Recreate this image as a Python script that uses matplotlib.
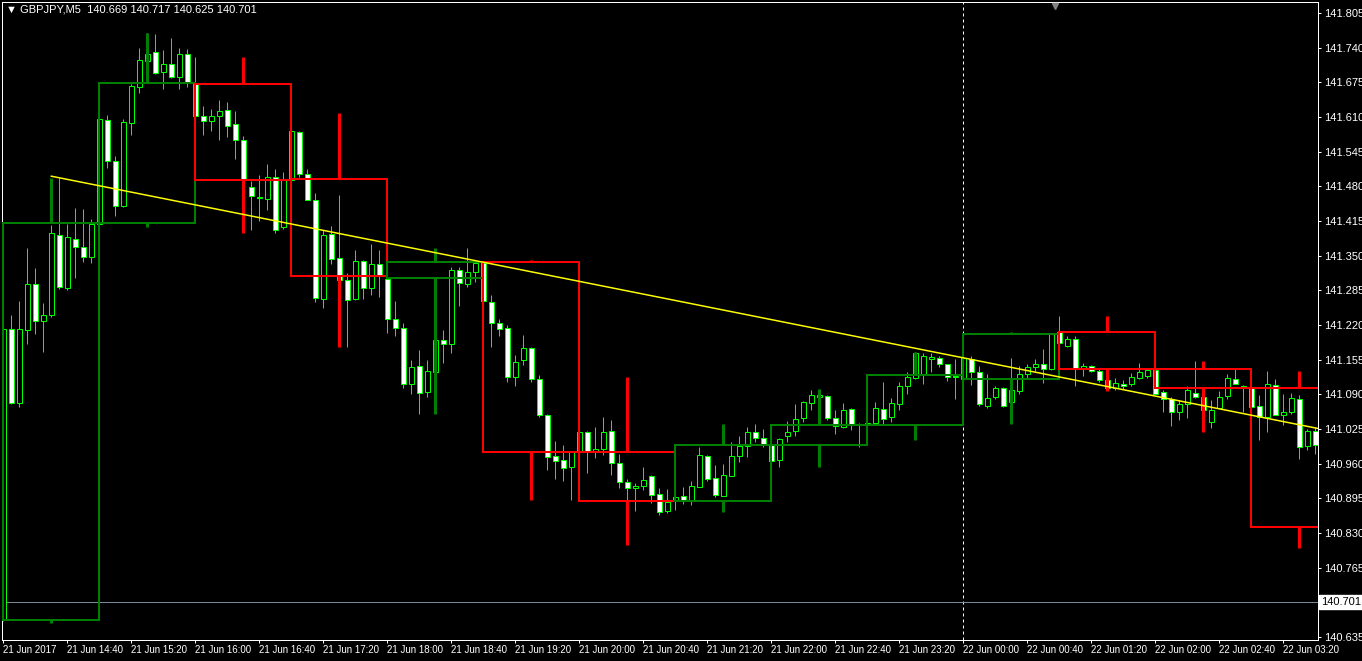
import numpy as np
import matplotlib
matplotlib.use('Agg')
import matplotlib.pyplot as plt
from matplotlib.patches import Rectangle

# ---------- data ----------
symbol = 'GBPJPY,M5'
last_bar = [140.669, 140.717, 140.625, 140.701]   # O H L C shown in the header
bid = 140.701

# M5 bars, first one is 21 Jun 14:00, one bar = 5 min
m5_open = [
    140.667, 141.212, 141.073, 141.210, 141.296, 141.227, 141.238, 141.388, 141.290, 141.382,
    141.366, 141.348, 141.410, 141.605, 141.528, 141.444, 141.598, 141.667, 141.715, 141.732,
    141.695, 141.709, 141.685, 141.729, 141.671, 141.612, 141.602, 141.611, 141.624, 141.596,
    141.566, 141.478, 141.460, 141.457, 141.497, 141.403, 141.491, 141.581, 141.504, 141.455,
    141.268, 141.390, 141.345, 141.305, 141.268, 141.340, 141.290, 141.334, 141.307, 141.231,
    141.214, 141.109, 141.144, 141.094, 141.132, 141.191, 141.185, 141.324, 141.296, 141.320,
    141.336, 141.264, 141.223, 141.214, 141.123, 141.155, 141.176, 141.118, 141.052, 140.975,
    140.967, 140.954, 140.982, 141.019, 140.982, 140.987, 141.021, 140.962, 140.925, 140.915,
    140.918, 140.937, 140.904, 140.871, 140.892, 140.899, 140.890, 140.917, 140.975, 140.933,
    140.900, 140.937, 140.975, 140.994, 141.020, 141.009, 140.995, 140.967, 141.011, 141.022,
    141.045, 141.073, 141.085, 141.086, 141.045, 141.028, 141.062, 141.032, 141.034, 141.037,
    141.062, 141.047, 141.071, 141.106, 141.120, 141.129, 141.157, 141.158, 141.146, 141.122,
    141.119, 141.156, 141.132, 141.069, 141.085, 141.101, 141.076, 141.097, 141.128, 141.142,
    141.146, 141.137, 141.206, 141.180, 141.193, 141.139, 141.144, 141.133, 141.117, 141.102,
    141.110, 141.110, 141.121, 141.124, 141.135, 141.094, 141.081, 141.057, 141.072, 141.093,
    141.085, 141.038, 141.065, 141.087, 141.119, 141.106, 141.102, 141.069, 141.047, 141.107,
    141.052, 141.057, 141.081, 140.993, 141.022,
]
m5_high = [
    141.212, 141.238, 141.265, 141.364, 141.327, 141.262, 141.407, 141.495, 141.409, 141.440,
    141.437, 141.418, 141.610, 141.613, 141.537, 141.606, 141.672, 141.740, 141.767, 141.765,
    141.735, 141.758, 141.739, 141.737, 141.722, 141.630, 141.625, 141.642, 141.638, 141.621,
    141.574, 141.490, 141.501, 141.522, 141.512, 141.507, 141.587, 141.583, 141.513, 141.467,
    141.398, 141.405, 141.463, 141.317, 141.360, 141.341, 141.372, 141.360, 141.308, 141.265,
    141.223, 141.154, 141.174, 141.154, 141.201, 141.210, 141.328, 141.328, 141.364, 141.342,
    141.338, 141.276, 141.231, 141.220, 141.164, 141.201, 141.179, 141.127, 141.053, 141.002,
    140.995, 140.982, 141.023, 141.021, 141.028, 141.047, 141.042, 140.979, 140.931, 140.923,
    140.954, 140.939, 140.915, 140.912, 140.903, 140.917, 140.927, 140.992, 140.976, 140.957,
    140.959, 141.001, 141.012, 141.028, 141.034, 141.025, 140.999, 141.008, 141.040, 141.072,
    141.078, 141.099, 141.098, 141.089, 141.061, 141.074, 141.064, 141.036, 141.038, 141.075,
    141.113, 141.083, 141.113, 141.132, 141.169, 141.167, 141.167, 141.161, 141.147, 141.157,
    141.158, 141.161, 141.143, 141.128, 141.106, 141.103, 141.159, 141.144, 141.146, 141.157,
    141.175, 141.205, 141.237, 141.199, 141.199, 141.149, 141.145, 141.138, 141.120, 141.121,
    141.117, 141.130, 141.148, 141.137, 141.136, 141.098, 141.085, 141.079, 141.105, 141.152,
    141.089, 141.079, 141.096, 141.128, 141.140, 141.107, 141.103, 141.088, 141.133, 141.118,
    141.091, 141.093, 141.088, 141.025, 141.029,
]
m5_low = [
    140.665, 141.072, 141.066, 141.185, 141.204, 141.170, 141.235, 141.288, 141.285, 141.308,
    141.338, 141.336, 141.407, 141.515, 141.424, 141.441, 141.576, 141.655, 141.705, 141.690,
    141.662, 141.683, 141.662, 141.666, 141.610, 141.576, 141.583, 141.566, 141.573, 141.531,
    141.479, 141.399, 141.415, 141.435, 141.393, 141.400, 141.490, 141.498, 141.454, 141.263,
    141.252, 141.335, 141.302, 141.179, 141.267, 141.268, 141.276, 141.272, 141.205, 141.200,
    141.101, 141.090, 141.054, 141.085, 141.126, 141.149, 141.168, 141.256, 141.292, 141.300,
    141.263, 141.178, 141.200, 141.114, 141.106, 141.145, 141.114, 141.048, 140.948, 140.931,
    140.928, 140.892, 140.976, 140.942, 140.970, 140.976, 140.939, 140.914, 140.892, 140.871,
    140.910, 140.886, 140.863, 140.867, 140.873, 140.884, 140.882, 140.916, 140.928, 140.898,
    140.899, 140.936, 140.963, 140.973, 141.000, 140.992, 140.963, 140.954, 141.000, 141.012,
    141.039, 141.061, 141.079, 141.042, 141.016, 141.027, 141.023, 140.992, 141.032, 141.034,
    141.034, 141.039, 141.061, 141.090, 141.119, 141.110, 141.132, 141.142, 141.115, 141.082,
    141.118, 141.107, 141.069, 141.065, 141.081, 141.067, 141.075, 141.090, 141.119, 141.134,
    141.111, 141.136, 141.185, 141.179, 141.106, 141.124, 141.132, 141.114, 141.098, 141.098,
    141.100, 141.106, 141.119, 141.120, 141.090, 141.057, 141.030, 141.041, 141.046, 141.084,
    141.057, 141.027, 141.064, 141.081, 141.109, 141.057, 141.066, 141.005, 141.019, 141.051,
    141.032, 141.053, 140.968, 140.986, 140.979,
]
m5_close = [
    141.212, 141.073, 141.213, 141.296, 141.227, 141.238, 141.392, 141.291, 141.385, 141.366,
    141.348, 141.410, 141.606, 141.528, 141.444, 141.600, 141.669, 141.716, 141.729, 141.693,
    141.709, 141.685, 141.729, 141.673, 141.612, 141.602, 141.611, 141.622, 141.594, 141.566,
    141.491, 141.462, 141.459, 141.497, 141.399, 141.491, 141.583, 141.504, 141.455, 141.270,
    141.388, 141.343, 141.304, 141.267, 141.340, 141.290, 141.334, 141.312, 141.231, 141.214,
    141.109, 141.142, 141.092, 141.133, 141.192, 141.185, 141.324, 141.298, 141.320, 141.336,
    141.265, 141.223, 141.213, 141.123, 141.151, 141.176, 141.118, 141.052, 140.973, 140.965,
    140.952, 140.981, 141.019, 140.982, 140.987, 141.019, 140.962, 140.925, 140.914, 140.919,
    140.930, 140.902, 140.870, 140.888, 140.898, 140.890, 140.918, 140.977, 140.932, 140.902,
    140.938, 140.974, 140.994, 141.020, 141.009, 140.995, 140.965, 141.007, 141.020, 141.043,
    141.075, 141.088, 141.088, 141.045, 141.031, 141.061, 141.034, 141.034, 141.037, 141.064,
    141.043, 141.073, 141.105, 141.122, 141.167, 141.161, 141.160, 141.146, 141.122, 141.125,
    141.158, 141.132, 141.071, 141.084, 141.101, 141.069, 141.098, 141.128, 141.142, 141.147,
    141.137, 141.204, 141.186, 141.193, 141.139, 141.143, 141.134, 141.117, 141.102, 141.112,
    141.106, 141.123, 141.131, 141.136, 141.091, 141.081, 141.057, 141.072, 141.098, 141.085,
    141.061, 141.060, 141.085, 141.121, 141.110, 141.101, 141.067, 141.047, 141.109, 141.052,
    141.057, 141.084, 140.992, 141.022, 140.995,
]

# H1 candles drawn by the overlay indicator (one per 12 M5 bars)
h1_open = [140.667, 141.411, 141.672, 141.494, 141.308, 141.338, 140.982,
           140.890, 140.995, 141.032, 141.118, 141.207, 141.137, 141.102]
h1_high = [141.495, 141.767, 141.723, 141.618, 141.365, 141.342, 141.123,
           141.034, 141.100, 141.169, 141.207, 141.237, 141.152, 141.134]
h1_low = [140.661, 141.404, 141.393, 141.179, 141.054, 140.892, 140.807,
          140.870, 140.953, 141.004, 141.034, 141.097, 141.019, 140.801]
h1_close = [141.411, 141.673, 141.492, 141.312, 141.338, 140.982, 140.890,
            140.995, 141.032, 141.126, 141.203, 141.137, 141.102, 140.842]

# trend line (bar index, price) anchors, drawn as a ray to the right
trend_bars = [6, 164]
trend_prices = [141.499, 141.027]

day_break_bar = 120   # 22 Jun 00:00

xtick_labels = ['21 Jun 2017', '21 Jun 14:40', '21 Jun 15:20', '21 Jun 16:00', '21 Jun 16:40',
                '21 Jun 17:20', '21 Jun 18:00', '21 Jun 18:40', '21 Jun 19:20', '21 Jun 20:00',
                '21 Jun 20:40', '21 Jun 21:20', '21 Jun 22:00', '21 Jun 22:40', '21 Jun 23:20',
                '22 Jun 00:00', '22 Jun 00:40', '22 Jun 01:20', '22 Jun 02:00', '22 Jun 02:40',
                '22 Jun 03:20']

price_ticks = [140.635, 140.700, 140.765, 140.830, 140.895, 140.960, 141.025, 141.090,
               141.155, 141.220, 141.285, 141.350, 141.415, 141.480, 141.545, 141.610,
               141.675, 141.740, 141.805]

# ---------- drawing ----------
plt.rcParams['font.family'] = ['Liberation Sans Narrow', 'Liberation Sans', 'DejaVu Sans']

W, H = 1362, 661
PX = 72 / 100  # one pixel in points

fig = plt.figure(figsize=(W / 100, H / 100), dpi=100, facecolor='black')
ax = fig.add_axes([2 / W, 21 / H, 1316 / W, 638 / H], facecolor='black')

x = np.arange(len(m5_open))
o = np.array(m5_open)
hi = np.array(m5_high)
lo = np.array(m5_low)
c = np.array(m5_close)
bull = c >= o

# candles: black body = up, white body = down (MT4 "green on black")
ax.vlines(x, lo, hi, color='#00ff00', lw=PX, zorder=2)
body = np.maximum(np.abs(c - o), 0.0006)
ax.bar(x, body, bottom=np.minimum(o, c), width=0.56,
       color=np.where(bull, 'black', 'white'), edgecolor='#00ff00',
       linewidth=PX, zorder=3)

# H1 boxes
for i in range(len(h1_open)):
    o1, c1 = h1_open[i], h1_close[i]
    col = '#008000' if c1 >= o1 else '#ff0000'
    left = i * 12
    ax.add_patch(Rectangle((left, min(o1, c1)), 12, abs(c1 - o1), fill=False,
                           edgecolor=col, lw=2 * PX, zorder=4))
    mid = left + 6
    ax.vlines(mid, max(o1, c1), h1_high[i], color=col, lw=3 * PX, zorder=4)
    ax.vlines(mid, h1_low[i], min(o1, c1), color=col, lw=3 * PX, zorder=4)

xmin, xmax = -0.1625, 164.34
ymin, ymax = 140.6294, 141.8256

# trend line ray
slope = (trend_prices[1] - trend_prices[0]) / (trend_bars[1] - trend_bars[0])
ax.plot([trend_bars[0], xmax],
        [trend_prices[0], trend_prices[0] + slope * (xmax - trend_bars[0])],
        color='#ffff00', lw=1.5 * PX, zorder=5)

# day separator and bid line
ax.axvline(day_break_bar, color='white', lw=PX, ls=(0, (3, 3)), zorder=1)
ax.axhline(bid, color='#778899', lw=PX, zorder=1)

ax.set_xlim(xmin, xmax)
ax.set_ylim(ymin, ymax)

for s in ax.spines.values():
    s.set_color('white')
    s.set_linewidth(PX)

ax.yaxis.tick_right()
ax.set_yticks(price_ticks)
# the scale label sitting under the bid box is hidden, as in the terminal
ax.set_yticklabels(['' if abs(v - bid) < 0.01 else f'{v:.3f}' for v in price_ticks])
ax.tick_params(axis='y', colors='white', labelsize=8, length=3 * PX, width=PX, pad=3 * PX)

ax.set_xticks(np.arange(0, len(xtick_labels) * 8, 8))
ax.set_xticklabels(xtick_labels)
ax.tick_params(axis='x', colors='white', labelsize=7, length=3 * PX, width=PX, pad=2 * PX)
for lab in ax.get_xticklabels():
    lab.set_ha('left')

# bid price label on the scale
ax.annotate(f'{bid:.3f}', xy=(1, bid), xycoords=ax.get_yaxis_transform(),
            xytext=(3 * PX, 0), textcoords='offset points', ha='left', va='center',
            fontsize=8, color='black', annotation_clip=False, zorder=10,
            bbox=dict(boxstyle='square,pad=0.2', fc='white', ec='white'))

# chart shift marker at the top
ax.plot([131.5], [0.993], marker='v', ms=5, color='#808080',
        transform=ax.get_xaxis_transform(), clip_on=False, zorder=6)

# header
fig.text(6 / W, 1 - 10 / H,
         '\u25BC ' + symbol + '  ' + ' '.join(f'{v:.3f}' for v in last_bar),
         color='white', fontsize=8, ha='left', va='center')

fig.savefig('out.png', dpi=100, facecolor='black')
